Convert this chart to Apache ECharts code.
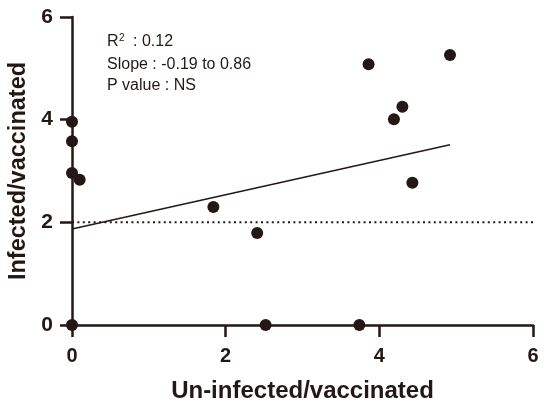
<!DOCTYPE html>
<html>
<head>
<meta charset="utf-8">
<script src="https://cdn.jsdelivr.net/npm/echarts@6/dist/echarts.min.js"></script>
<style>html,body{margin:0;padding:0;background:#fff}#c{width:544px;height:404px}</style>
</head>
<body>
<div id="c"></div>
<script>
var xValues = [0, 0, 0, 0.10, 0, 1.84, 2.41, 2.52, 3.74, 3.86, 4.92, 4.30, 4.19, 4.43];
var yValues = [3.96, 3.58, 2.96, 2.83, 0, 2.30, 1.79, 0, 0, 5.08, 5.26, 4.25, 4.01, 2.77];
var fitX = [0, 4.92];
var fitY = [1.87, 3.51];
var refX = [0, 6];
var refY = [2, 2];
var xTicks = [0, 2, 4, 6];
var yTicks = [0, 2, 4, 6];
var statLines = ['R', '2', ': 0.12', 'Slope : -0.19 to 0.86', 'P value : NS'];

var ink = '#231815';
var font = 'Liberation Sans, Arial, Helvetica, sans-serif';
var pts = xValues.map(function (x, i) { return [x, yValues[i]]; });
var fit = fitX.map(function (x, i) { return [x, fitY[i]]; });
var ref = refX.map(function (x, i) { return [x, refY[i]]; });

function txt(s, x, y, size) {
  return {type: 'text', x: x, y: y, z: 10,
    style: {text: s, fill: ink, font: size + 'px ' + font, verticalAlign: 'middle', align: 'left'}};
}

var chart = echarts.init(document.getElementById('c'), null, {renderer: 'canvas'});
chart.setOption({
  animation: false,
  backgroundColor: '#fff',
  grid: {left: 72, right: 11, top: 17, bottom: 79, containLabel: false, outerBoundsMode: 'none'},
  xAxis: {
    type: 'value', min: 0, max: 6, interval: 2,
    name: 'Un-infected/vaccinated', nameLocation: 'middle', nameGap: 54,
    nameTextStyle: {color: ink, fontFamily: font, fontWeight: 'bold', fontSize: 24},
    axisLine: {show: true, onZero: false, lineStyle: {color: ink, width: 2.5}},
    axisTick: {show: true, inside: false, length: 12, lineStyle: {color: ink, width: 2.5}},
    axisLabel: {show: true, color: ink, fontFamily: font, fontWeight: 'bold', fontSize: 20, margin: 21,
      formatter: function (v) { return xTicks.indexOf(v) >= 0 ? String(v) : ''; }},
    splitLine: {show: false}
  },
  yAxis: {
    type: 'value', min: 0, max: 6, interval: 2,
    name: 'Infected/vaccinated', nameLocation: 'middle', nameGap: 40,
    nameTextStyle: {color: ink, fontFamily: font, fontWeight: 'bold', fontSize: 23.5},
    axisLine: {show: true, onZero: false, lineStyle: {color: ink, width: 2.5}},
    axisTick: {show: true, inside: false, length: 12, lineStyle: {color: ink, width: 2.5}},
    axisLabel: {show: true, color: ink, fontFamily: font, fontWeight: 'bold', fontSize: 21, margin: 19,
      formatter: function (v) { return yTicks.indexOf(v) >= 0 ? String(v) : ''; }},
    splitLine: {show: false}
  },
  graphic: [
    txt(statLines[0], 107, 42, 16),
    txt(statLines[1], 119, 38.5, 10),
    txt(statLines[2], 133, 42, 16),
    txt(statLines[3], 107, 65, 16),
    txt(statLines[4], 107, 85.5, 16)
  ],
  series: [
    {type: 'line', data: ref, symbol: 'none', silent: true, z: 1,
     lineStyle: {color: ink, width: 2, type: [2, 3.4]}},
    {type: 'line', data: fit, symbol: 'none', silent: true, z: 2,
     lineStyle: {color: ink, width: 1.5}},
    {type: 'scatter', data: pts, symbol: 'circle', symbolSize: 12, z: 5,
     itemStyle: {color: ink, opacity: 1}}
  ]
});
</script>
</body>
</html>
